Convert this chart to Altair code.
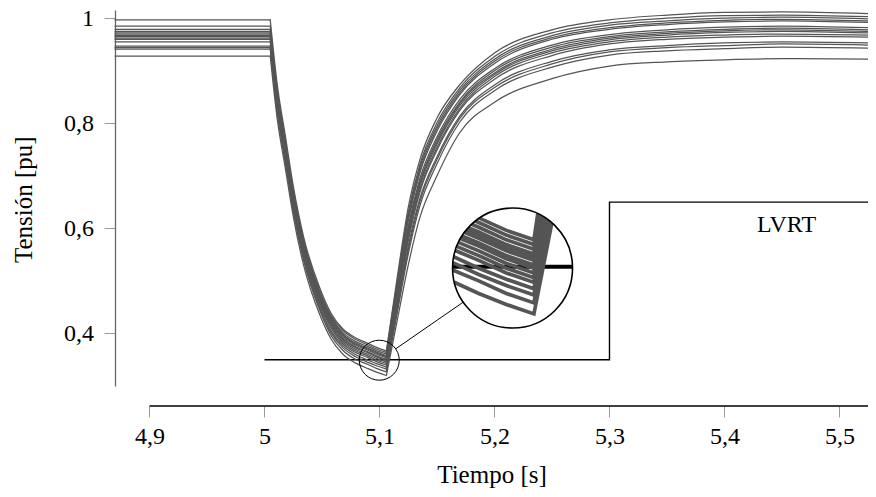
import math
import altair as alt
import pandas as pd

FONT = "Liberation Serif"
LINE_COLOR = "#555555"

# ---------------- axes ----------------
X_DOMAIN = [4.87, 5.5248]
Y_DOMAIN = [0.3, 1.0157]
X_TICKS = [4.9, 5.0, 5.1, 5.2, 5.3, 5.4, 5.5]
Y_TICKS = [0.4, 0.6, 0.8, 1.0]
X_AXIS_START = 4.9

# ---------------- voltage curves ----------------
T_PRE = [4.87, 5.005]
T_FALL = [5.005, 5.011, 5.018, 5.025, 5.034, 5.048, 5.058, 5.068, 5.079, 5.09, 5.098, 5.106]
T_RISE = [5.106, 5.115, 5.125, 5.135, 5.15, 5.17, 5.2, 5.25, 5.3, 5.35, 5.4, 5.45, 5.5248]

FALL = [
    [0.997, 0.875, 0.778, 0.681, 0.584, 0.487, 0.438, 0.409, 0.392, 0.381, 0.373, 0.367],
    [0.985, 0.865, 0.769, 0.673, 0.578, 0.482, 0.434, 0.406, 0.389, 0.378, 0.370, 0.364],
    [0.979, 0.859, 0.764, 0.669, 0.574, 0.478, 0.431, 0.402, 0.385, 0.375, 0.367, 0.361],
    [0.975, 0.855, 0.760, 0.665, 0.571, 0.475, 0.428, 0.399, 0.382, 0.372, 0.364, 0.358],
    [0.972, 0.853, 0.758, 0.663, 0.569, 0.473, 0.426, 0.397, 0.380, 0.370, 0.362, 0.356],
    [0.970, 0.851, 0.756, 0.661, 0.567, 0.471, 0.424, 0.395, 0.378, 0.368, 0.360, 0.354],
    [0.967, 0.848, 0.753, 0.658, 0.564, 0.468, 0.421, 0.392, 0.375, 0.365, 0.357, 0.351],
    [0.965, 0.846, 0.751, 0.656, 0.562, 0.466, 0.419, 0.390, 0.373, 0.363, 0.355, 0.349],
    [0.962, 0.843, 0.748, 0.653, 0.559, 0.463, 0.416, 0.387, 0.370, 0.360, 0.352, 0.346],
    [0.960, 0.840, 0.745, 0.650, 0.556, 0.460, 0.413, 0.384, 0.367, 0.357, 0.349, 0.343],
    [0.955, 0.836, 0.741, 0.646, 0.552, 0.457, 0.410, 0.381, 0.364, 0.354, 0.346, 0.340],
    [0.947, 0.829, 0.734, 0.640, 0.547, 0.452, 0.405, 0.377, 0.360, 0.349, 0.342, 0.336],
    [0.944, 0.825, 0.731, 0.636, 0.543, 0.448, 0.401, 0.373, 0.356, 0.345, 0.338, 0.332],
    [0.941, 0.822, 0.727, 0.633, 0.539, 0.444, 0.396, 0.368, 0.351, 0.341, 0.333, 0.327],
    [0.928, 0.810, 0.716, 0.623, 0.530, 0.436, 0.389, 0.361, 0.344, 0.333, 0.326, 0.320],
]

RISE = [
    [0.367, 0.500, 0.640, 0.730, 0.810, 0.874, 0.934, 0.978, 0.997, 1.006, 1.011, 1.012, 1.009],
    [0.364, 0.494, 0.630, 0.721, 0.801, 0.868, 0.927, 0.972, 0.991, 1.000, 1.005, 1.006, 1.003],
    [0.361, 0.489, 0.625, 0.715, 0.795, 0.863, 0.922, 0.967, 0.987, 0.995, 1.000, 1.002, 0.999],
    [0.358, 0.485, 0.619, 0.710, 0.790, 0.859, 0.918, 0.963, 0.982, 0.991, 0.996, 0.998, 0.995],
    [0.356, 0.481, 0.614, 0.705, 0.785, 0.855, 0.914, 0.960, 0.979, 0.988, 0.993, 0.995, 0.992],
    [0.354, 0.475, 0.604, 0.694, 0.774, 0.846, 0.904, 0.949, 0.969, 0.978, 0.983, 0.985, 0.982],
    [0.351, 0.471, 0.599, 0.688, 0.769, 0.841, 0.900, 0.945, 0.965, 0.974, 0.979, 0.981, 0.978],
    [0.349, 0.467, 0.594, 0.684, 0.764, 0.838, 0.896, 0.941, 0.962, 0.971, 0.976, 0.978, 0.975],
    [0.346, 0.463, 0.588, 0.679, 0.760, 0.834, 0.893, 0.938, 0.959, 0.968, 0.973, 0.975, 0.972],
    [0.343, 0.458, 0.582, 0.673, 0.754, 0.829, 0.889, 0.934, 0.955, 0.964, 0.968, 0.970, 0.968],
    [0.340, 0.454, 0.576, 0.668, 0.749, 0.825, 0.884, 0.929, 0.951, 0.960, 0.964, 0.966, 0.964],
    [0.336, 0.446, 0.566, 0.656, 0.736, 0.814, 0.873, 0.918, 0.940, 0.948, 0.953, 0.955, 0.953],
    [0.332, 0.441, 0.559, 0.650, 0.731, 0.810, 0.868, 0.913, 0.936, 0.944, 0.948, 0.951, 0.949],
    [0.327, 0.434, 0.551, 0.642, 0.723, 0.803, 0.862, 0.907, 0.930, 0.938, 0.942, 0.945, 0.943],
    [0.320, 0.420, 0.530, 0.620, 0.700, 0.783, 0.840, 0.885, 0.909, 0.917, 0.921, 0.923, 0.922],
]

# ---------------- LVRT requirement ----------------
LVRT_T = [5.0, 5.3, 5.3, 5.5248]
LVRT_V = [0.35, 0.35, 0.65, 0.65]
LVRT_LABEL_TEXT = ["LVRT"]
LVRT_LABEL_T = [5.454]
LVRT_LABEL_V = [0.5933]

# ---------------- magnifier ----------------
ZOOM_T, ZOOM_V = 5.0998, 0.3491
INSET_T, INSET_V = 5.2157, 0.5245
ZOOM_R = 20      # px
MAG = 3

W, H = 753, 376
PX_T = W / (X_DOMAIN[1] - X_DOMAIN[0])
PX_V = H / (Y_DOMAIN[1] - Y_DOMAIN[0])


def clip_to_zoom(ts, vs):
    """Clip a polyline to the magnifier circle; return pieces in pixel offsets."""
    pts = [((t - ZOOM_T) * PX_T, (v - ZOOM_V) * PX_V) for t, v in zip(ts, vs)]
    pieces, cur = [], []
    for (x0, y0), (x1, y1) in zip(pts[:-1], pts[1:]):
        dx, dy = x1 - x0, y1 - y0
        a = dx * dx + dy * dy
        b = 2 * (x0 * dx + y0 * dy)
        c = x0 * x0 + y0 * y0 - ZOOM_R ** 2
        disc = b * b - 4 * a * c
        if a == 0 or disc <= 0:
            if cur:
                pieces.append(cur)
                cur = []
            continue
        sq = math.sqrt(disc)
        lo = max(0.0, (-b - sq) / (2 * a))
        hi = min(1.0, (-b + sq) / (2 * a))
        if lo >= hi:
            if cur:
                pieces.append(cur)
                cur = []
            continue
        q0 = (x0 + lo * dx, y0 + lo * dy)
        q1 = (x0 + hi * dx, y0 + hi * dy)
        if not cur:
            cur = [q0]
        cur.append(q1)
        if hi < 1.0:
            pieces.append(cur)
            cur = []
    if cur:
        pieces.append(cur)
    return pieces


def to_inset(px, py):
    return INSET_T + px * MAG / PX_T, INSET_V + py * MAG / PX_V


# ---------------- tables ----------------
rows = []
for i in range(len(FALL)):
    for k, t in enumerate(T_PRE):
        rows.append({"t": t, "v": FALL[i][0], "seg": f"{i}-pre", "o": k})
    for k, (t, v) in enumerate(zip(T_FALL, FALL[i])):
        rows.append({"t": t, "v": v, "seg": f"{i}-fall", "o": k})
    for k, (t, v) in enumerate(zip(T_RISE, RISE[i])):
        rows.append({"t": t, "v": v, "seg": f"{i}-rise", "o": k})
curves_df = pd.DataFrame(rows)

lvrt_df = pd.DataFrame({"t": LVRT_T, "v": LVRT_V, "o": list(range(len(LVRT_T)))})
label_df = pd.DataFrame({"t": LVRT_LABEL_T, "v": LVRT_LABEL_V, "txt": LVRT_LABEL_TEXT})

inset_rows = []
for i in range(len(FALL)):
    ts = T_FALL + T_RISE[1:]
    vs = FALL[i] + RISE[i][1:]
    for j, piece in enumerate(clip_to_zoom(ts, vs)):
        for k, (px, py) in enumerate(piece):
            t2, v2 = to_inset(px, py)
            inset_rows.append({"t": t2, "v": v2, "seg": f"{i}-{j}", "o": k})
inset_df = pd.DataFrame(inset_rows)

inset_lvrt_rows = []
for j, piece in enumerate(clip_to_zoom(LVRT_T, LVRT_V)):
    for k, (px, py) in enumerate(piece):
        t2, v2 = to_inset(px, py)
        inset_lvrt_rows.append({"t": t2, "v": v2, "seg": f"l{j}", "o": k})
inset_lvrt_df = pd.DataFrame(inset_lvrt_rows)

# connector between the two circles
dxp = (INSET_T - ZOOM_T) * PX_T
dyp = (INSET_V - ZOOM_V) * PX_V
dist = math.hypot(dxp, dyp)
ux, uy = dxp / dist, dyp / dist
conn_df = pd.DataFrame({
    "t": [ZOOM_T + ZOOM_R * ux / PX_T, INSET_T - ZOOM_R * MAG * ux / PX_T],
    "v": [ZOOM_V + ZOOM_R * uy / PX_V, INSET_V - ZOOM_R * MAG * uy / PX_V],
    "o": [0, 1],
})
zoom_df = pd.DataFrame({"t": [ZOOM_T], "v": [ZOOM_V]})
inset_center_df = pd.DataFrame({"t": [INSET_T], "v": [INSET_V]})
xbase_df = pd.DataFrame({"t": [X_AXIS_START], "t2": [X_DOMAIN[1]]})

# ---------------- encodings ----------------
label_expr = "replace(format(datum.value, '.1~f'), '.', ',')"
x_scale = alt.Scale(domain=X_DOMAIN, nice=False, zero=False)
y_scale = alt.Scale(domain=Y_DOMAIN, nice=False, zero=False)
x_axis = alt.Axis(
    values=X_TICKS, labelExpr=label_expr, offset=20, domain=False,
    tickSize=11, tickColor="#9a9a9a", tickWidth=1, labelPadding=26,
    labelBaseline="alphabetic", labelFlush=False, labelOverlap=False,
    title="Tiempo [s]", titleY=76.5, titleBaseline="alphabetic",
)
y_axis = alt.Axis(
    values=Y_TICKS, labelExpr=label_expr, domainColor="#666666", domainWidth=1.3,
    tickSize=11, tickColor="#9a9a9a", tickWidth=1, labelPadding=10.5,
    labelBaseline="middle", labelFlush=False, labelOverlap=False,
    title="Tensión [pu]", titleAngle=270, titleX=-83.3, titleY=189.2,
    titleBaseline="alphabetic", titleAlign="center",
)
X = alt.X("t:Q", scale=x_scale, axis=x_axis)
Y = alt.Y("v:Q", scale=y_scale, axis=y_axis)

lvrt = alt.Chart(lvrt_df).mark_line(color="black", strokeWidth=1.4).encode(
    x=X, y=Y, order="o:Q")

curves = alt.Chart(curves_df).mark_line(
    color=LINE_COLOR, strokeWidth=1.25, interpolate="monotone", strokeCap="round"
).encode(x=X, y=Y, detail="seg:N", order="o:Q")

label = alt.Chart(label_df).mark_text(
    font=FONT, fontSize=24, align="center", baseline="alphabetic", color="black"
).encode(x=X, y=Y, text="txt:N")

xbase = alt.Chart(xbase_df).mark_rule(color="black", strokeWidth=1.3).encode(
    x=X, x2="t2:Q", y=alt.value(H + 20))

small_circle = alt.Chart(zoom_df).mark_point(
    shape="circle", size=(2 * ZOOM_R) ** 2, filled=False, stroke="black",
    strokeWidth=1.0, opacity=1).encode(x=X, y=Y)

connector = alt.Chart(conn_df).mark_line(color="black", strokeWidth=1.0).encode(
    x=X, y=Y, order="o:Q")

big_fill = alt.Chart(inset_center_df).mark_point(
    shape="circle", size=(2 * ZOOM_R * MAG) ** 2, filled=True, fill="white",
    strokeOpacity=0, opacity=1, fillOpacity=1).encode(x=X, y=Y)

inset_lvrt = alt.Chart(inset_lvrt_df).mark_line(color="black", strokeWidth=4.0).encode(
    x=X, y=Y, detail="seg:N", order="o:Q")

inset_curves = alt.Chart(inset_df).mark_line(
    color=LINE_COLOR, strokeWidth=3.7, strokeCap="butt"
).encode(x=X, y=Y, detail="seg:N", order="o:Q")

big_outline = alt.Chart(inset_center_df).mark_point(
    shape="circle", size=(2 * ZOOM_R * MAG) ** 2, filled=False, stroke="black",
    strokeWidth=1.6, opacity=1).encode(x=X, y=Y)

chart = alt.layer(
    lvrt, curves, label, xbase, small_circle, connector,
    big_fill, inset_lvrt, inset_curves, big_outline,
).properties(
    width=W, height=H,
    padding={"left": 107, "top": 2, "right": 0, "bottom": 103},
    autosize=alt.AutoSizeParams(type="none"),
).configure_view(stroke=None).configure_axis(
    grid=False, labelFont=FONT, titleFont=FONT, labelFontSize=24, titleFontSize=25,
    labelColor="black", titleColor="black", titleFontWeight="normal",
)

chart.save("out.html", embed_options={"renderer": "svg", "actions": False})
